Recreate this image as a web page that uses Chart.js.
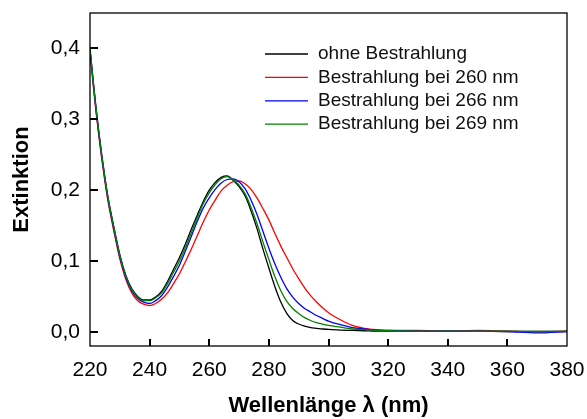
<!DOCTYPE html>
<html>
<head>
<meta charset="utf-8">
<script src="https://cdn.jsdelivr.net/npm/chart.js@4.4.1/dist/chart.umd.min.js"></script>
<style>
  html, body { margin: 0; padding: 0; background: #fff; }
  #wrap { width: 587px; height: 419px; }
</style>
</head>
<body>
<div id="wrap"><canvas id="c" width="587" height="419"></canvas></div>
<script>
// Wellenlängen (nm), gemeinsam für alle Spektren
const wavelengths = [220, 221, 222, 223, 224, 225, 226, 228, 230, 232, 234, 236, 238, 240,
  242, 244, 246, 248, 250, 252, 254, 256, 258, 260, 262, 264, 266, 268, 270, 272, 274, 276,
  278, 280, 282, 284, 286, 288, 290, 292, 294, 296, 298, 300, 304, 308, 312, 316, 320,
  330, 340, 350, 360, 370, 380];

// Extinktion ohne Bestrahlung
const extOhne = [0.400, 0.357, 0.317, 0.281, 0.248, 0.218, 0.191, 0.148, 0.109, 0.080, 0.061, 0.050, 0.045, 0.045,
  0.049, 0.057, 0.071, 0.088, 0.105, 0.124, 0.145, 0.165, 0.184, 0.200, 0.211, 0.218, 0.220, 0.214, 0.205, 0.192, 0.171, 0.146,
  0.117, 0.090, 0.064, 0.042, 0.026, 0.016, 0.011, 0.008, 0.006, 0.005, 0.004, 0.0035, 0.0025, 0.002, 0.0015, 0.001, 0.001,
  0.001, 0.0008, 0.001, 0.0005, 0.0005, 0.0005];

// Extinktion nach Bestrahlung bei 260 nm
const ext260 = [0.395, 0.351, 0.311, 0.275, 0.242, 0.212, 0.185, 0.142, 0.103, 0.074, 0.055, 0.044, 0.039, 0.037,
  0.040, 0.046, 0.055, 0.068, 0.082, 0.099, 0.117, 0.136, 0.155, 0.172, 0.186, 0.199, 0.207, 0.212, 0.213, 0.209, 0.201, 0.189,
  0.174, 0.158, 0.139, 0.121, 0.105, 0.089, 0.075, 0.062, 0.051, 0.042, 0.034, 0.027, 0.017, 0.009, 0.005, 0.003, 0.002,
  0.002, 0.001, 0.002, 0.001, 0.000, 0.001];

// Extinktion nach Bestrahlung bei 266 nm
const ext266 = [0.398, 0.355, 0.314, 0.278, 0.245, 0.215, 0.188, 0.145, 0.106, 0.077, 0.058, 0.047, 0.042, 0.040,
  0.044, 0.051, 0.063, 0.078, 0.094, 0.114, 0.135, 0.156, 0.175, 0.189, 0.201, 0.210, 0.215, 0.216, 0.212, 0.202, 0.186, 0.166,
  0.142, 0.118, 0.096, 0.077, 0.061, 0.049, 0.040, 0.033, 0.028, 0.023, 0.019, 0.015, 0.010, 0.006, 0.004, 0.0025, 0.002,
  0.001, 0.001, 0.001, 0.0005, -0.0015, 0.0005];

// Extinktion nach Bestrahlung bei 269 nm
const ext269 = [0.399, 0.356, 0.316, 0.280, 0.247, 0.217, 0.190, 0.147, 0.108, 0.079, 0.060, 0.049, 0.044, 0.044,
  0.048, 0.055, 0.068, 0.084, 0.100, 0.119, 0.140, 0.161, 0.181, 0.196, 0.208, 0.216, 0.219, 0.215, 0.207, 0.195, 0.176, 0.153,
  0.127, 0.102, 0.078, 0.058, 0.043, 0.033, 0.026, 0.020, 0.016, 0.013, 0.011, 0.009, 0.0065, 0.004, 0.003, 0.002, 0.0015,
  0.001, 0.001, 0.0008, 0.001, 0.0005, 0.0008];

const seriesLabels = ['ohne Bestrahlung', 'Bestrahlung bei 260 nm', 'Bestrahlung bei 266 nm', 'Bestrahlung bei 269 nm'];
const seriesColors = ['#000000', '#ff0000', '#0000ff', '#008000'];
const xTickValues = [220, 240, 260, 280, 300, 320, 340, 360, 380];
const yTickValues = [0.0, 0.1, 0.2, 0.3, 0.4];

const FONT = '"Liberation Sans", Arial, Helvetica, sans-serif';

function toPoints(ys) {
  return wavelengths.map((x, i) => ({ x: x, y: ys[i] }));
}

const seriesValues = [extOhne, ext260, ext266, ext269];

// Rahmen um den Plotbereich und nach innen gerichtete Teilstriche
const framePlugin = {
  id: 'frameTicks',
  afterDatasetsDraw(chart) {
    const { ctx, chartArea: a, scales } = chart;
    ctx.save();
    ctx.strokeStyle = '#000';
    ctx.lineWidth = 2;
    ctx.beginPath();
    xTickValues.forEach(v => {
      if (v <= scales.x.min || v >= scales.x.max) return;
      const px = Math.round(scales.x.getPixelForValue(v));
      ctx.moveTo(px, a.bottom);
      ctx.lineTo(px, a.bottom - 7);
    });
    yTickValues.forEach(v => {
      const py = Math.round(scales.y.getPixelForValue(v));
      ctx.moveTo(a.left, py);
      ctx.lineTo(a.left + 8, py);
    });
    ctx.stroke();
    ctx.lineWidth = 1.3;
    ctx.strokeRect(a.left, a.top, a.right - a.left, a.bottom - a.top);
    ctx.restore();
  }
};

// Legende oben rechts innerhalb des Plotbereichs
const legendPlugin = {
  id: 'innerLegend',
  afterDraw(chart) {
    const { ctx, chartArea: a } = chart;
    const o = chart.options.plugins.innerLegend;
    ctx.save();
    ctx.font = o.fontSize + 'px ' + FONT;
    ctx.textBaseline = 'middle';
    ctx.textAlign = 'left';
    chart.data.datasets.forEach((ds, i) => {
      const y = a.top + o.top + i * o.rowHeight;
      const x0 = a.left + o.left;
      ctx.strokeStyle = ds.borderColor;
      ctx.lineWidth = 1.3;
      ctx.beginPath();
      ctx.moveTo(x0, y);
      ctx.lineTo(x0 + o.lineLength, y);
      ctx.stroke();
      ctx.fillStyle = '#111';
      ctx.fillText(ds.label, x0 + o.lineLength + o.gap, y);
    });
    ctx.restore();
  }
};

const datasets = seriesLabels.map((label, i) => ({
  label: label,
  data: toPoints(seriesValues[i]),
  borderColor: seriesColors[i],
  backgroundColor: seriesColors[i],
  borderWidth: 1.3,
  pointRadius: 0,
  fill: false,
  cubicInterpolationMode: 'monotone',
  order: seriesLabels.length - i
}));

new Chart(document.getElementById('c'), {
  type: 'line',
  data: { datasets: datasets },
  options: {
    responsive: false,
    animation: false,
    devicePixelRatio: 1,
    layout: { padding: { left: 0, right: 20, top: 13, bottom: 0 } },
    plugins: {
      legend: { display: false },
      tooltip: { enabled: false },
      innerLegend: { left: 175, top: 41, rowHeight: 23.4, lineLength: 43, gap: 10, fontSize: 19 }
    },
    scales: {
      x: {
        type: 'linear',
        min: 220,
        max: 380,
        afterBuildTicks(scale) { scale.ticks = xTickValues.map(v => ({ value: v })); },
        afterFit(scale) {
          scale.height = 73;
          scale.paddingLeft = 0;
          scale.paddingRight = 0;
        },
        grid: { display: false, drawTicks: false },
        border: { display: false },
        ticks: {
          padding: 12,
          maxRotation: 0,
          autoSkip: false,
          color: '#000',
          font: { family: FONT, size: 21 },
          callback: v => String(v)
        },
        title: {
          display: true,
          text: 'Wellenlänge λ (nm)',
          color: '#000',
          font: { family: FONT, size: 22, weight: 'bold' },
          padding: { top: 0, bottom: 0 }
        }
      },
      y: {
        type: 'linear',
        min: -0.02,
        max: 0.45,
        afterBuildTicks(scale) { scale.ticks = yTickValues.map(v => ({ value: v })); },
        afterFit(scale) {
          scale.width = 90;
          scale.paddingTop = 0;
          scale.paddingBottom = 0;
        },
        grid: { display: false, drawTicks: false },
        border: { display: false },
        ticks: {
          padding: 10,
          color: '#000',
          font: { family: FONT, size: 21 },
          callback: v => v.toFixed(1).replace('.', ',')
        },
        title: {
          display: true,
          text: 'Extinktion',
          color: '#000',
          font: { family: FONT, size: 22, weight: 'bold' },
          padding: { top: 9, bottom: 0 }
        }
      }
    }
  },
  plugins: [framePlugin, legendPlugin]
});
</script>
</body>
</html>
